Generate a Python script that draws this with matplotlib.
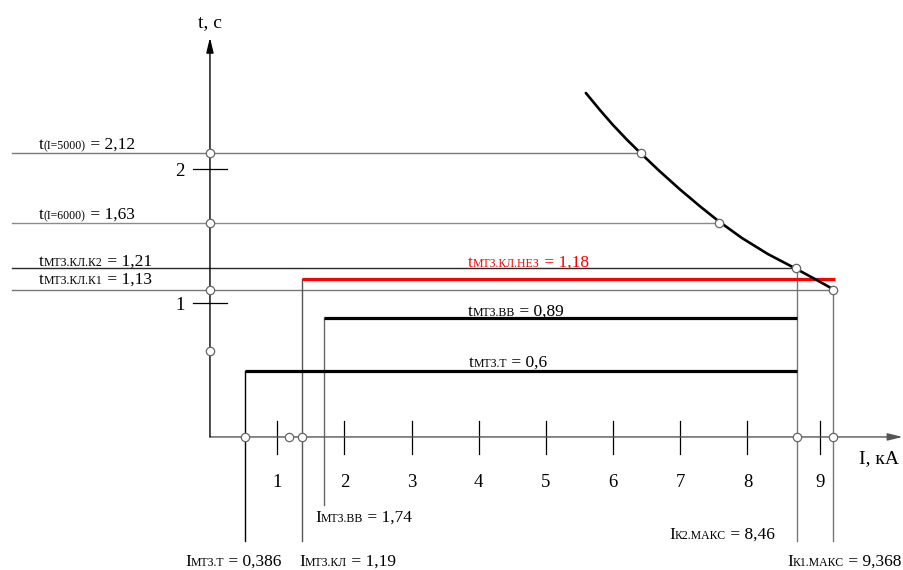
import matplotlib
matplotlib.use('Agg')
import matplotlib.pyplot as plt
from matplotlib.offsetbox import TextArea, HPacker, AnnotationBbox

SERIF = 'Liberation Serif'

# time-current curve (I, kA ; t, s) as drawn
curve_i = [5.595, 5.804, 5.997, 6.205, 6.414, 6.696, 6.994, 7.292, 7.574, 7.917, 8.304, 8.720, 9.003, 9.271]
curve_t = [2.567, 2.440, 2.329, 2.219, 2.116, 1.982, 1.848, 1.722, 1.609, 1.485, 1.365, 1.256, 1.179, 1.104]

# reference levels running from the left edge to the curve
ref_t = [2.12, 1.60, 1.26, 1.10]
ref_i_end = [6.41, 7.57, 8.72, 9.27]
ref_left = -2.95

# protection stages (start current, end current, time)
stage_t = [1.18, 0.886, 0.49]
stage_i_start = [1.37, 1.69, 0.52]
stage_i_end = [9.30, 8.74, 8.74]

# vertical current markers
vert_i = [0.52, 1.37, 1.69, 8.74, 9.28]
vert_top = [0.49, 1.18, 0.886, 1.26, 1.10]
vert_bottom = [-0.776, -0.776, -0.507, -0.776, -0.776]

# small circles on the axes
axis_i_pts = [0.52, 1.17, 1.37, 8.74, 9.28]
axis_t_pts = [2.12, 1.60, 1.10, 0.64]

x_ticks = [1, 2, 3, 4, 5, 6, 7, 8, 9.08]
x_tick_labels = ['1', '2', '3', '4', '5', '6', '7', '8', '9']
y_ticks = [1, 2]
y_tick_labels = ['1', '2']

fig = plt.figure(figsize=(9.04, 5.70), dpi=100)
ax = fig.add_axes([0, 0, 1, 1])
ax.set_xlim(-3.125, 10.33)
ax.set_ylim(-0.993, 3.261)
ax.axis('off')

# axes with arrows
ax.annotate('', xy=(10.31, 0), xytext=(0, 0),
            arrowprops=dict(arrowstyle='-|>,head_length=0.9,head_width=0.22',
                            color='#555555', lw=1.0, shrinkA=0, shrinkB=0))
ax.annotate('', xy=(0, 2.98), xytext=(0, 0),
            arrowprops=dict(arrowstyle='-|>,head_length=0.9,head_width=0.22',
                            color='black', lw=1.0, shrinkA=0, shrinkB=0))

# ticks
for xt, lab in zip(x_ticks, x_tick_labels):
    ax.plot([xt, xt], [-0.13, 0.12], color='black', lw=0.9)
    ax.text(xt, -0.37, lab, ha='center', va='baseline', fontsize=13.5, family=SERIF)
for yt, lab in zip(y_ticks, y_tick_labels):
    ax.plot([-0.25, 0.25], [yt, yt], color='black', lw=0.9)
    ax.text(-0.45, yt - 0.05, lab, ha='center', va='baseline', fontsize=13.5, family=SERIF)

# reference lines
ref_colors = ['#7a7a7a', '#8c8c8c', '#2a2a2a', '#777777']
for t, ie, c in zip(ref_t, ref_i_end, ref_colors):
    ax.plot([ref_left, ie], [t, t], color=c, lw=1.0, zorder=2)

# verticals
vert_colors = ['black', '#555555', '#666666', '#777777', '#777777']
for i, top, bot, c in zip(vert_i, vert_top, vert_bottom, vert_colors):
    ax.plot([i, i], [bot, top], color=c, lw=1.0, zorder=2)

# stage lines
stage_colors = ['red', 'black', 'black']
for t, i0, i1, c in zip(stage_t, stage_i_start, stage_i_end, stage_colors):
    ax.plot([i0, i1], [t, t], color=c, lw=2.3, zorder=3, solid_capstyle='butt')

# curve
ax.plot(curve_i, curve_t, color='black', lw=1.9, zorder=4,
        solid_joinstyle='round', solid_capstyle='round')

# circles
circ = dict(marker='o', ms=6, mfc='white', mec='#666666', mew=0.9, ls='none', zorder=5)
ax.plot(axis_i_pts, [0] * len(axis_i_pts), **circ)
ax.plot([0] * len(axis_t_pts), axis_t_pts, **circ)
ax.plot(ref_i_end, ref_t, **circ)


def label(x, y, main, sub, tail, color='black', size=12.5, sub_size=8.5):
    """text with small baseline index, (x, y) = left/baseline in px from top-left"""
    parts = [TextArea(main, textprops=dict(fontsize=size, family=SERIF, color=color)),
             TextArea(sub, textprops=dict(fontsize=sub_size, family=SERIF, color=color)),
             TextArea(tail, textprops=dict(fontsize=size, family=SERIF, color=color))]
    box = HPacker(children=parts, align='baseline', pad=0, sep=0)
    ab = AnnotationBbox(box, (x, 570 - y - 4), xycoords='figure pixels',
                        box_alignment=(0, 0), frameon=False, pad=0)
    ax.add_artist(ab)


label(39, 149, 't', '(I=5000)', ' = 2,12')
label(39, 219, 't', '(I=6000)', ' = 1,63')
label(39, 266, 't', 'МТЗ.КЛ.К2', ' = 1,21')
label(39, 284, 't', 'МТЗ.КЛ.К1', ' = 1,13')
label(468, 267, 't', 'МТЗ.КЛ.НЕЗ', ' = 1,18', color='red')
label(468, 316, 't', 'МТЗ.ВВ', ' = 0,89')
label(469, 367, 't', 'МТЗ.Т', ' = 0,6')
label(315, 522, 'I', 'МТЗ.ВВ', ' = 1,74')
label(185, 566, 'I', 'МТЗ.Т', ' = 0,386')
label(299, 566, 'I', 'МТЗ.КЛ', ' = 1,19')
label(669, 539, 'I', 'К2.МАКС', ' = 8,46')
label(787, 566, 'I', 'К1.МАКС', ' = 9,368')

fig.text(859 / 904, 1 - 463 / 570, 'I, кА', fontsize=14, family=SERIF, va='baseline')
fig.text(198 / 904, 1 - 27 / 570, 't, с', fontsize=14, family=SERIF, va='baseline')

fig.savefig('out.png', dpi=100)
